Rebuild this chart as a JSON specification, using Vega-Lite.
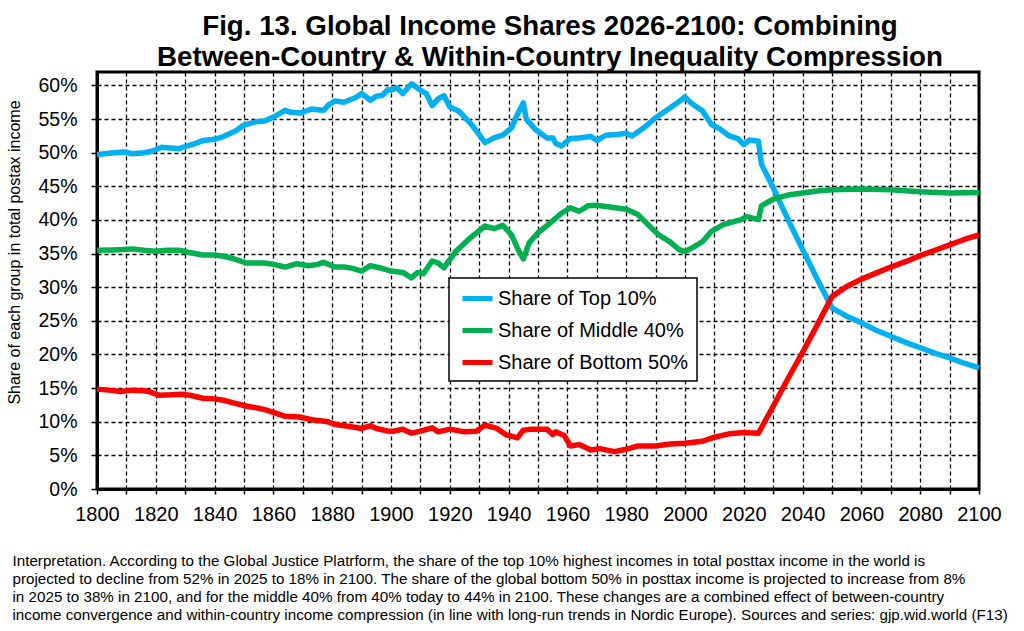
{
  "$schema": "https://vega.github.io/schema/vega-lite/v6.json",
  "width": 882,
  "height": 417,
  "autosize": {"type": "none"},
  "padding": {"left": 97, "top": 72, "right": 45, "bottom": 142},
  "background": "white",
  "config": {
    "font": "Liberation Sans",
    "view": {"stroke": "black", "strokeWidth": 3}
  },
  "title": {
    "text": ["Fig. 13. Global Income Shares 2026-2100: Combining", "Between-Country & Within-Country Inequality Compression"],
    "font": "Liberation Sans",
    "fontSize": 27.7,
    "fontWeight": "bold",
    "color": "black",
    "anchor": "middle",
    "dx": 12,
    "offset": 0,
    "lineHeight": 31.5
  },
  "data": {
    "values": [
      {"year": 1800, "group": "Share of Top 10%", "share": 49.75},
      {"year": 1805, "group": "Share of Top 10%", "share": 49.95},
      {"year": 1809, "group": "Share of Top 10%", "share": 50.1},
      {"year": 1812, "group": "Share of Top 10%", "share": 49.85},
      {"year": 1816, "group": "Share of Top 10%", "share": 50.0},
      {"year": 1819, "group": "Share of Top 10%", "share": 50.25},
      {"year": 1822, "group": "Share of Top 10%", "share": 50.8},
      {"year": 1825, "group": "Share of Top 10%", "share": 50.7},
      {"year": 1828, "group": "Share of Top 10%", "share": 50.6},
      {"year": 1830, "group": "Share of Top 10%", "share": 50.9},
      {"year": 1833, "group": "Share of Top 10%", "share": 51.3},
      {"year": 1836, "group": "Share of Top 10%", "share": 51.8},
      {"year": 1840, "group": "Share of Top 10%", "share": 52.0},
      {"year": 1843, "group": "Share of Top 10%", "share": 52.4},
      {"year": 1847, "group": "Share of Top 10%", "share": 53.2},
      {"year": 1850, "group": "Share of Top 10%", "share": 54.1},
      {"year": 1854, "group": "Share of Top 10%", "share": 54.6},
      {"year": 1857, "group": "Share of Top 10%", "share": 54.7},
      {"year": 1860, "group": "Share of Top 10%", "share": 55.3},
      {"year": 1864, "group": "Share of Top 10%", "share": 56.3},
      {"year": 1866, "group": "Share of Top 10%", "share": 56.0},
      {"year": 1869, "group": "Share of Top 10%", "share": 55.9},
      {"year": 1873, "group": "Share of Top 10%", "share": 56.5},
      {"year": 1875, "group": "Share of Top 10%", "share": 56.4},
      {"year": 1877, "group": "Share of Top 10%", "share": 56.3},
      {"year": 1879, "group": "Share of Top 10%", "share": 57.2},
      {"year": 1881, "group": "Share of Top 10%", "share": 57.7},
      {"year": 1884, "group": "Share of Top 10%", "share": 57.5},
      {"year": 1888, "group": "Share of Top 10%", "share": 58.2},
      {"year": 1890, "group": "Share of Top 10%", "share": 58.8},
      {"year": 1893, "group": "Share of Top 10%", "share": 57.8},
      {"year": 1895, "group": "Share of Top 10%", "share": 58.4},
      {"year": 1897, "group": "Share of Top 10%", "share": 58.5},
      {"year": 1899, "group": "Share of Top 10%", "share": 59.4},
      {"year": 1900, "group": "Share of Top 10%", "share": 59.3},
      {"year": 1902, "group": "Share of Top 10%", "share": 59.65},
      {"year": 1904, "group": "Share of Top 10%", "share": 58.8},
      {"year": 1907, "group": "Share of Top 10%", "share": 60.25},
      {"year": 1910, "group": "Share of Top 10%", "share": 59.3},
      {"year": 1912, "group": "Share of Top 10%", "share": 58.8},
      {"year": 1914, "group": "Share of Top 10%", "share": 57.0},
      {"year": 1916, "group": "Share of Top 10%", "share": 58.0},
      {"year": 1918, "group": "Share of Top 10%", "share": 58.5},
      {"year": 1920, "group": "Share of Top 10%", "share": 56.8},
      {"year": 1923, "group": "Share of Top 10%", "share": 56.2},
      {"year": 1927, "group": "Share of Top 10%", "share": 54.4},
      {"year": 1930, "group": "Share of Top 10%", "share": 52.7},
      {"year": 1932, "group": "Share of Top 10%", "share": 51.5},
      {"year": 1935, "group": "Share of Top 10%", "share": 52.2},
      {"year": 1938, "group": "Share of Top 10%", "share": 52.6},
      {"year": 1941, "group": "Share of Top 10%", "share": 53.7},
      {"year": 1943, "group": "Share of Top 10%", "share": 55.7},
      {"year": 1945, "group": "Share of Top 10%", "share": 57.4},
      {"year": 1946, "group": "Share of Top 10%", "share": 55.0},
      {"year": 1949, "group": "Share of Top 10%", "share": 53.5},
      {"year": 1953, "group": "Share of Top 10%", "share": 52.2},
      {"year": 1955, "group": "Share of Top 10%", "share": 52.2},
      {"year": 1956, "group": "Share of Top 10%", "share": 51.4},
      {"year": 1958, "group": "Share of Top 10%", "share": 51.0},
      {"year": 1961, "group": "Share of Top 10%", "share": 52.1},
      {"year": 1964, "group": "Share of Top 10%", "share": 52.2},
      {"year": 1968, "group": "Share of Top 10%", "share": 52.4},
      {"year": 1970, "group": "Share of Top 10%", "share": 51.8},
      {"year": 1973, "group": "Share of Top 10%", "share": 52.6},
      {"year": 1977, "group": "Share of Top 10%", "share": 52.7},
      {"year": 1980, "group": "Share of Top 10%", "share": 52.9},
      {"year": 1982, "group": "Share of Top 10%", "share": 52.5},
      {"year": 1986, "group": "Share of Top 10%", "share": 53.7},
      {"year": 1990, "group": "Share of Top 10%", "share": 55.2},
      {"year": 1995, "group": "Share of Top 10%", "share": 56.7},
      {"year": 1998, "group": "Share of Top 10%", "share": 57.6},
      {"year": 2000, "group": "Share of Top 10%", "share": 58.3},
      {"year": 2002, "group": "Share of Top 10%", "share": 57.4},
      {"year": 2006, "group": "Share of Top 10%", "share": 56.2},
      {"year": 2009, "group": "Share of Top 10%", "share": 54.2},
      {"year": 2012, "group": "Share of Top 10%", "share": 53.5},
      {"year": 2015, "group": "Share of Top 10%", "share": 52.5},
      {"year": 2018, "group": "Share of Top 10%", "share": 52.1},
      {"year": 2020, "group": "Share of Top 10%", "share": 51.2},
      {"year": 2022, "group": "Share of Top 10%", "share": 51.9},
      {"year": 2025, "group": "Share of Top 10%", "share": 51.7},
      {"year": 2026, "group": "Share of Top 10%", "share": 48.3},
      {"year": 2030, "group": "Share of Top 10%", "share": 44.8},
      {"year": 2035, "group": "Share of Top 10%", "share": 40.1},
      {"year": 2040, "group": "Share of Top 10%", "share": 35.6},
      {"year": 2045, "group": "Share of Top 10%", "share": 31.2},
      {"year": 2050, "group": "Share of Top 10%", "share": 26.9},
      {"year": 2055, "group": "Share of Top 10%", "share": 25.7},
      {"year": 2060, "group": "Share of Top 10%", "share": 24.7},
      {"year": 2065, "group": "Share of Top 10%", "share": 23.6},
      {"year": 2070, "group": "Share of Top 10%", "share": 22.7},
      {"year": 2075, "group": "Share of Top 10%", "share": 21.8},
      {"year": 2080, "group": "Share of Top 10%", "share": 21.0},
      {"year": 2085, "group": "Share of Top 10%", "share": 20.2},
      {"year": 2090, "group": "Share of Top 10%", "share": 19.5},
      {"year": 2095, "group": "Share of Top 10%", "share": 18.7},
      {"year": 2100, "group": "Share of Top 10%", "share": 18.0},

      {"year": 1800, "group": "Share of Middle 40%", "share": 35.5},
      {"year": 1805, "group": "Share of Middle 40%", "share": 35.55},
      {"year": 1809, "group": "Share of Middle 40%", "share": 35.6},
      {"year": 1812, "group": "Share of Middle 40%", "share": 35.7},
      {"year": 1816, "group": "Share of Middle 40%", "share": 35.5},
      {"year": 1820, "group": "Share of Middle 40%", "share": 35.35},
      {"year": 1824, "group": "Share of Middle 40%", "share": 35.5},
      {"year": 1828, "group": "Share of Middle 40%", "share": 35.5},
      {"year": 1831, "group": "Share of Middle 40%", "share": 35.2},
      {"year": 1836, "group": "Share of Middle 40%", "share": 34.8},
      {"year": 1840, "group": "Share of Middle 40%", "share": 34.8},
      {"year": 1843, "group": "Share of Middle 40%", "share": 34.6},
      {"year": 1846, "group": "Share of Middle 40%", "share": 34.3},
      {"year": 1851, "group": "Share of Middle 40%", "share": 33.6},
      {"year": 1857, "group": "Share of Middle 40%", "share": 33.6},
      {"year": 1860, "group": "Share of Middle 40%", "share": 33.4},
      {"year": 1864, "group": "Share of Middle 40%", "share": 33.0},
      {"year": 1868, "group": "Share of Middle 40%", "share": 33.5},
      {"year": 1872, "group": "Share of Middle 40%", "share": 33.2},
      {"year": 1875, "group": "Share of Middle 40%", "share": 33.4},
      {"year": 1877, "group": "Share of Middle 40%", "share": 33.7},
      {"year": 1881, "group": "Share of Middle 40%", "share": 33.0},
      {"year": 1884, "group": "Share of Middle 40%", "share": 33.0},
      {"year": 1887, "group": "Share of Middle 40%", "share": 32.8},
      {"year": 1890, "group": "Share of Middle 40%", "share": 32.4},
      {"year": 1893, "group": "Share of Middle 40%", "share": 33.2},
      {"year": 1896, "group": "Share of Middle 40%", "share": 32.9},
      {"year": 1900, "group": "Share of Middle 40%", "share": 32.4},
      {"year": 1904, "group": "Share of Middle 40%", "share": 32.2},
      {"year": 1907, "group": "Share of Middle 40%", "share": 31.4},
      {"year": 1909, "group": "Share of Middle 40%", "share": 32.2},
      {"year": 1911, "group": "Share of Middle 40%", "share": 32.0},
      {"year": 1914, "group": "Share of Middle 40%", "share": 33.9},
      {"year": 1916, "group": "Share of Middle 40%", "share": 33.6},
      {"year": 1918, "group": "Share of Middle 40%", "share": 32.9},
      {"year": 1922, "group": "Share of Middle 40%", "share": 35.3},
      {"year": 1927, "group": "Share of Middle 40%", "share": 37.35},
      {"year": 1932, "group": "Share of Middle 40%", "share": 39.1},
      {"year": 1935, "group": "Share of Middle 40%", "share": 38.7},
      {"year": 1938, "group": "Share of Middle 40%", "share": 39.2},
      {"year": 1941, "group": "Share of Middle 40%", "share": 37.8},
      {"year": 1943, "group": "Share of Middle 40%", "share": 35.8},
      {"year": 1945, "group": "Share of Middle 40%", "share": 34.2},
      {"year": 1947, "group": "Share of Middle 40%", "share": 36.6},
      {"year": 1950, "group": "Share of Middle 40%", "share": 38.1},
      {"year": 1954, "group": "Share of Middle 40%", "share": 39.5},
      {"year": 1958, "group": "Share of Middle 40%", "share": 41.0},
      {"year": 1961, "group": "Share of Middle 40%", "share": 41.8},
      {"year": 1964, "group": "Share of Middle 40%", "share": 41.3},
      {"year": 1967, "group": "Share of Middle 40%", "share": 42.1},
      {"year": 1970, "group": "Share of Middle 40%", "share": 42.2},
      {"year": 1975, "group": "Share of Middle 40%", "share": 41.9},
      {"year": 1980, "group": "Share of Middle 40%", "share": 41.6},
      {"year": 1984, "group": "Share of Middle 40%", "share": 40.8},
      {"year": 1987, "group": "Share of Middle 40%", "share": 39.5},
      {"year": 1991, "group": "Share of Middle 40%", "share": 37.8},
      {"year": 1995, "group": "Share of Middle 40%", "share": 36.7},
      {"year": 1998, "group": "Share of Middle 40%", "share": 35.6},
      {"year": 2000, "group": "Share of Middle 40%", "share": 35.3},
      {"year": 2003, "group": "Share of Middle 40%", "share": 36.0},
      {"year": 2006, "group": "Share of Middle 40%", "share": 36.8},
      {"year": 2009, "group": "Share of Middle 40%", "share": 38.3},
      {"year": 2013, "group": "Share of Middle 40%", "share": 39.3},
      {"year": 2017, "group": "Share of Middle 40%", "share": 39.8},
      {"year": 2019, "group": "Share of Middle 40%", "share": 40.05},
      {"year": 2021, "group": "Share of Middle 40%", "share": 40.5},
      {"year": 2025, "group": "Share of Middle 40%", "share": 40.05},
      {"year": 2026, "group": "Share of Middle 40%", "share": 42.1},
      {"year": 2030, "group": "Share of Middle 40%", "share": 43.1},
      {"year": 2035, "group": "Share of Middle 40%", "share": 43.7},
      {"year": 2040, "group": "Share of Middle 40%", "share": 44.0},
      {"year": 2045, "group": "Share of Middle 40%", "share": 44.3},
      {"year": 2050, "group": "Share of Middle 40%", "share": 44.5},
      {"year": 2060, "group": "Share of Middle 40%", "share": 44.6},
      {"year": 2070, "group": "Share of Middle 40%", "share": 44.5},
      {"year": 2080, "group": "Share of Middle 40%", "share": 44.2},
      {"year": 2090, "group": "Share of Middle 40%", "share": 44.0},
      {"year": 2100, "group": "Share of Middle 40%", "share": 44.1},

      {"year": 1800, "group": "Share of Bottom 50%", "share": 14.85},
      {"year": 1804, "group": "Share of Bottom 50%", "share": 14.7},
      {"year": 1808, "group": "Share of Bottom 50%", "share": 14.5},
      {"year": 1812, "group": "Share of Bottom 50%", "share": 14.7},
      {"year": 1816, "group": "Share of Bottom 50%", "share": 14.6},
      {"year": 1818, "group": "Share of Bottom 50%", "share": 14.45},
      {"year": 1821, "group": "Share of Bottom 50%", "share": 13.95},
      {"year": 1825, "group": "Share of Bottom 50%", "share": 14.0},
      {"year": 1829, "group": "Share of Bottom 50%", "share": 14.1},
      {"year": 1832, "group": "Share of Bottom 50%", "share": 13.9},
      {"year": 1836, "group": "Share of Bottom 50%", "share": 13.5},
      {"year": 1840, "group": "Share of Bottom 50%", "share": 13.4},
      {"year": 1843, "group": "Share of Bottom 50%", "share": 13.2},
      {"year": 1846, "group": "Share of Bottom 50%", "share": 12.85},
      {"year": 1851, "group": "Share of Bottom 50%", "share": 12.3},
      {"year": 1855, "group": "Share of Bottom 50%", "share": 12.0},
      {"year": 1857, "group": "Share of Bottom 50%", "share": 11.8},
      {"year": 1860, "group": "Share of Bottom 50%", "share": 11.4},
      {"year": 1864, "group": "Share of Bottom 50%", "share": 10.8},
      {"year": 1869, "group": "Share of Bottom 50%", "share": 10.7},
      {"year": 1873, "group": "Share of Bottom 50%", "share": 10.3},
      {"year": 1878, "group": "Share of Bottom 50%", "share": 10.05},
      {"year": 1881, "group": "Share of Bottom 50%", "share": 9.6},
      {"year": 1886, "group": "Share of Bottom 50%", "share": 9.3},
      {"year": 1890, "group": "Share of Bottom 50%", "share": 9.0},
      {"year": 1893, "group": "Share of Bottom 50%", "share": 9.4},
      {"year": 1895, "group": "Share of Bottom 50%", "share": 9.0},
      {"year": 1899, "group": "Share of Bottom 50%", "share": 8.6},
      {"year": 1901, "group": "Share of Bottom 50%", "share": 8.6},
      {"year": 1904, "group": "Share of Bottom 50%", "share": 8.9},
      {"year": 1907, "group": "Share of Bottom 50%", "share": 8.3},
      {"year": 1910, "group": "Share of Bottom 50%", "share": 8.6},
      {"year": 1914, "group": "Share of Bottom 50%", "share": 9.1},
      {"year": 1916, "group": "Share of Bottom 50%", "share": 8.5},
      {"year": 1920, "group": "Share of Bottom 50%", "share": 8.9},
      {"year": 1925, "group": "Share of Bottom 50%", "share": 8.5},
      {"year": 1929, "group": "Share of Bottom 50%", "share": 8.6},
      {"year": 1932, "group": "Share of Bottom 50%", "share": 9.5},
      {"year": 1936, "group": "Share of Bottom 50%", "share": 9.0},
      {"year": 1939, "group": "Share of Bottom 50%", "share": 8.1},
      {"year": 1943, "group": "Share of Bottom 50%", "share": 7.6},
      {"year": 1945, "group": "Share of Bottom 50%", "share": 8.75},
      {"year": 1948, "group": "Share of Bottom 50%", "share": 8.9},
      {"year": 1953, "group": "Share of Bottom 50%", "share": 8.9},
      {"year": 1955, "group": "Share of Bottom 50%", "share": 8.1},
      {"year": 1956, "group": "Share of Bottom 50%", "share": 8.5},
      {"year": 1959, "group": "Share of Bottom 50%", "share": 7.9},
      {"year": 1961, "group": "Share of Bottom 50%", "share": 6.4},
      {"year": 1964, "group": "Share of Bottom 50%", "share": 6.6},
      {"year": 1968, "group": "Share of Bottom 50%", "share": 5.8},
      {"year": 1971, "group": "Share of Bottom 50%", "share": 6.0},
      {"year": 1976, "group": "Share of Bottom 50%", "share": 5.55},
      {"year": 1980, "group": "Share of Bottom 50%", "share": 5.9},
      {"year": 1984, "group": "Share of Bottom 50%", "share": 6.4},
      {"year": 1990, "group": "Share of Bottom 50%", "share": 6.4},
      {"year": 1995, "group": "Share of Bottom 50%", "share": 6.7},
      {"year": 2000, "group": "Share of Bottom 50%", "share": 6.8},
      {"year": 2006, "group": "Share of Bottom 50%", "share": 7.1},
      {"year": 2010, "group": "Share of Bottom 50%", "share": 7.7},
      {"year": 2015, "group": "Share of Bottom 50%", "share": 8.2},
      {"year": 2020, "group": "Share of Bottom 50%", "share": 8.4},
      {"year": 2025, "group": "Share of Bottom 50%", "share": 8.3},
      {"year": 2026, "group": "Share of Bottom 50%", "share": 9.1},
      {"year": 2030, "group": "Share of Bottom 50%", "share": 12.3},
      {"year": 2035, "group": "Share of Bottom 50%", "share": 16.4},
      {"year": 2040, "group": "Share of Bottom 50%", "share": 20.3},
      {"year": 2045, "group": "Share of Bottom 50%", "share": 24.4},
      {"year": 2050, "group": "Share of Bottom 50%", "share": 28.6},
      {"year": 2055, "group": "Share of Bottom 50%", "share": 30.1},
      {"year": 2060, "group": "Share of Bottom 50%", "share": 31.2},
      {"year": 2065, "group": "Share of Bottom 50%", "share": 32.1},
      {"year": 2070, "group": "Share of Bottom 50%", "share": 33.0},
      {"year": 2075, "group": "Share of Bottom 50%", "share": 33.8},
      {"year": 2080, "group": "Share of Bottom 50%", "share": 34.7},
      {"year": 2085, "group": "Share of Bottom 50%", "share": 35.5},
      {"year": 2090, "group": "Share of Bottom 50%", "share": 36.3},
      {"year": 2095, "group": "Share of Bottom 50%", "share": 37.1},
      {"year": 2100, "group": "Share of Bottom 50%", "share": 37.8}
    ]
  },
  "mark": {"type": "line", "strokeWidth": 5.5, "strokeJoin": "round"},
  "encoding": {
    "x": {
      "field": "year",
      "type": "quantitative",
      "scale": {"domain": [1800, 2100], "nice": false, "zero": false},
      "axis": {
        "values": [1800, 1810, 1820, 1830, 1840, 1850, 1860, 1870, 1880, 1890, 1900, 1910, 1920, 1930, 1940, 1950, 1960, 1970, 1980, 1990, 2000, 2010, 2020, 2030, 2040, 2050, 2060, 2070, 2080, 2090, 2100],
        "format": "d",
        "labelExpr": "datum.value % 20 === 0 ? datum.label : ''",
        "labelFontSize": 20,
        "labelColor": "black",
        "labelPadding": 10,
        "labelFlush": false,
        "labelOverlap": false,
        "tickSize": 5,
        "tickColor": "black",
        "tickWidth": 1.5,
        "domainColor": "black",
        "domainWidth": 3,
        "grid": true,
        "gridColor": "black",
        "gridDash": [4, 3],
        "gridWidth": 1.3,
        "gridOpacity": 1,
        "title": [
          "Interpretation. According to the Global Justice Platrform, the share of the top 10% highest incomes in total posttax income in the world is",
          "projected to decline from 52% in 2025 to 18% in 2100. The share of the global bottom 50% in posttax income is projected to increase from 8%",
          "in 2025 to 38% in 2100, and for the middle 40% from 40% today to 44% in 2100. These changes are a combined effect of between-country",
          "income convergence and within-country income compression (in line with long-run trends in Nordic Europe). Sources and series: gjp.wid.world (F13)"
        ],
        "titleFont": "Liberation Sans",
        "titleFontSize": 15.2,
        "titleFontWeight": "normal",
        "titleColor": "black",
        "titleAnchor": "start",
        "titleAlign": "left",
        "titleBaseline": "alphabetic",
        "titleX": -85,
        "titleY": 76,
        "titleLineHeight": 18.3
      }
    },
    "y": {
      "field": "share",
      "type": "quantitative",
      "scale": {"domain": [0, 62], "nice": false},
      "axis": {
        "values": [0, 5, 10, 15, 20, 25, 30, 35, 40, 45, 50, 55, 60],
        "labelExpr": "datum.value + '%'",
        "labelFontSize": 19.5,
        "labelColor": "black",
        "labelPadding": 14,
        "tickSize": 6,
        "tickColor": "black",
        "tickWidth": 1.5,
        "domainColor": "black",
        "domainWidth": 3,
        "grid": true,
        "gridColor": "black",
        "gridDash": [4, 3],
        "gridWidth": 1.3,
        "gridOpacity": 1,
        "title": "Share of each group in total postax income",
        "titleFont": "Liberation Sans",
        "titleFontSize": 16,
        "titleFontWeight": "normal",
        "titleColor": "black",
        "titleAngle": -90,
        "titleAlign": "center",
        "titleBaseline": "middle",
        "titleX": -83,
        "titleY": 180
      }
    },
    "color": {
      "field": "group",
      "type": "nominal",
      "scale": {
        "domain": ["Share of Top 10%", "Share of Middle 40%", "Share of Bottom 50%"],
        "range": ["#00B0F0", "#00B050", "#FF0000"]
      },
      "legend": {
        "orient": "none",
        "legendX": 352,
        "legendY": 206,
        "title": null,
        "labelFont": "Liberation Sans",
        "labelFontSize": 20,
        "labelColor": "black",
        "labelLimit": 400,
        "labelOffset": 16,
        "symbolType": "M-0.7,0H2.3",
        "symbolStrokeWidth": 5,
        "symbolSize": 400,
        "strokeColor": "black",
        "fillColor": "white",
        "padding": 8,
        "rowPadding": 9,
        "cornerRadius": 0,
        "encode": {"legend": {"update": {"strokeWidth": {"value": 1.5}}}}
      }
    }
  }
}
